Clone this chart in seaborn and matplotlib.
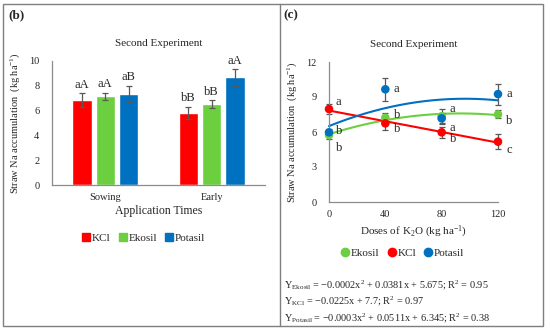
import numpy as np
import pandas as pd
import matplotlib
matplotlib.use("Agg")
import matplotlib.pyplot as plt
import seaborn as sns
from matplotlib.lines import Line2D
from matplotlib.patches import Rectangle

sns.set_style("white")
plt.rcParams['font.family'] = ['Liberation Serif', 'DejaVu Serif']
plt.rcParams['mathtext.fontset'] = 'custom'
plt.rcParams['mathtext.rm'] = 'Liberation Serif'
plt.rcParams['mathtext.it'] = 'Liberation Serif:italic'

# ---- data: panel (b) ----
times = ["Sowing", "Early"]
sources_b = ["KCl", "Ekosil", "Potasil"]
bar_kcl = [6.85, 5.83]
bar_ekosil = [7.15, 6.53]
bar_potasil = [7.34, 8.68]
err_kcl = [0.53, 0.48]
err_ekosil = [0.30, 0.31]
err_potasil = [0.67, 0.67]
lab_kcl = ["aA", "bB"]
lab_ekosil = ["aA", "bB"]
lab_potasil = ["aB", "aA"]

# ---- data: panel (c) ----
doses = [0, 40, 80, 120]
pt_ekosil = [5.74, 7.22, 7.35, 7.51]
pt_kcl = [7.97, 6.74, 5.97, 5.17]
pt_potasil = [5.97, 9.66, 7.17, 9.25]
perr_ekosil = [0.35, 0.40, 0.60, 0.35]
perr_kcl = [0.45, 0.60, 0.50, 0.65]
perr_potasil = [0.30, 1.00, 0.45, 0.90]
plab_ekosil = ["b", "b", "a", "b"]
plab_kcl = ["a", "b", "b", "c"]
plab_potasil = ["b", "a", "a", "a"]
equations = [
    r"Y$_{\mathrm{Ekosil}}$ = −0.0002x$^{2}$ + 0.0381x + 5.675; R$^{2}$ = 0.95",
    r"Y$_{\mathrm{KCl}}$ = −0.0225x + 7.7; R$^{2}$ = 0.97",
    r"Y$_{\mathrm{Potasil}}$ = −0.0003x$^{2}$ + 0.0511x + 6.345; R$^{2}$ = 0.38",
]

RED = "#FF0000"
GREEN = "#6CCF3F"
BLUE = "#0070C0"
GRAY = "#8C8C8C"
ERRC = "#595959"

W, H = 550, 332
fig = plt.figure(figsize=(5.5, 3.32), dpi=100)

# frame
fig.patches.append(Rectangle((3 / W, 1 - 326 / H), 540 / W, 322 / H, transform=fig.transFigure,
                             fill=False, edgecolor="#7F7F7F", lw=1.0))
fig.lines.append(Line2D([280 / W, 280 / W], [1 - 326 / H, 1 - 4 / H], transform=fig.transFigure,
                        color="#7F7F7F", lw=1.0))

# ---------- panel (b) ----------
axb = fig.add_axes([52 / W, 1 - 185 / H, 213 / W, 124 / H])
df = pd.DataFrame({
    "time": times * 3,
    "source": [s for s in sources_b for _ in times],
    "value": bar_kcl + bar_ekosil + bar_potasil,
})
errs = err_kcl + err_ekosil + err_potasil
labs = lab_kcl + lab_ekosil + lab_potasil
sns.barplot(data=df, x="time", y="value", hue="source", order=times, hue_order=sources_b,
            palette=[RED, GREEN, BLUE], width=0.66, gap=0.17, errorbar=None,
            saturation=1, ax=axb, legend=False)
for p, v, e, lb in zip(axb.patches, df["value"], errs, labs):
    xc = p.get_x() + p.get_width() / 2
    axb.errorbar(xc, v, yerr=e, color=ERRC, capsize=2.2, lw=0.9, capthick=0.9)
    axb.text(xc, v + e + 0.2, lb, ha="center", va="bottom", fontsize=9)
axb.set_ylim(0, 10)
axb.set_xlim(-0.5, 1.5)
axb.set_yticks([0, 2, 4, 6, 8, 10])
axb.tick_params(axis="both", length=0, labelsize=7.5, pad=9)
axb.tick_params(axis="x", pad=6)
axb.set_xlabel("Application Times", fontsize=8.5, labelpad=2)
axb.set_ylabel(r"Straw Na accumulation  (kg ha$^{-1}$)", fontsize=7.5, labelpad=5)
axb.set_title("Second Experiment", fontsize=8, pad=11)
for s in ["top", "right"]:
    axb.spines[s].set_visible(False)
for s in ["left", "bottom"]:
    axb.spines[s].set_color(GRAY)
    axb.spines[s].set_linewidth(0.9)
handles_b = [Line2D([], [], marker="s", ls="", color=c, markersize=6) for c in [RED, GREEN, BLUE]]
fig.legend(handles_b, sources_b, loc="center", bbox_to_anchor=(143 / W, 1 - 238 / H), ncol=3,
           frameon=False, fontsize=8, handletextpad=0.0, columnspacing=0.6, handlelength=1.0)
fig.text(8 / W, 1 - 15 / H, "(b)", fontsize=9.5, fontweight="bold", va="center", ha="left")

# ---------- panel (c) ----------
axc = fig.add_axes([329 / W, 1 - 202 / H, 169 / W, 140 / H])
series = [
    ("Ekosil", pt_ekosil, perr_ekosil, plab_ekosil, GREEN, 2),
    ("KCl", pt_kcl, perr_kcl, plab_kcl, RED, 1),
    ("Potasil", pt_potasil, perr_potasil, plab_potasil, BLUE, 2),
]
xs = np.array(doses, dtype=float)
xfit = np.linspace(0, 120, 200)
for name, ys, es, lbs, col, deg in series:
    coef = np.polyfit(xs, ys, deg)
    sns.lineplot(x=xfit, y=np.polyval(coef, xfit), color=col, lw=1.5, ax=axc, clip_on=False)
for name, ys, es, lbs, col, deg in series:
    axc.errorbar(xs, ys, yerr=es, fmt="none", ecolor=ERRC, capsize=2.2, lw=0.9, capthick=0.9,
                 clip_on=False)
    sns.scatterplot(x=xs, y=ys, color=col, s=38, edgecolor="none", ax=axc, clip_on=False, zorder=3)

# letter labels (offsets in points)
lab_offsets = {
    "Ekosil": [(5, -9), (6, 2), (6, 5), (6, -5)],
    "KCl": [(5, 5), (6, -4), (6, -5), (6, -6)],
    "Potasil": [(5, 1), (6, 0), (6, -7), (6, 0)],
}
for name, ys, es, lbs, col, deg in series:
    for x, y, lb, off in zip(xs, ys, lbs, lab_offsets[name]):
        axc.annotate(lb, (x, y), xytext=off, textcoords="offset points", fontsize=9,
                     ha="left", va="center")

axc.set_xlim(0, 120)
axc.set_ylim(0, 12)
axc.set_xticks(doses)
axc.set_yticks([0, 3, 6, 9, 12])
axc.tick_params(axis="both", length=0, labelsize=7.5, pad=9)
axc.tick_params(axis="x", pad=6)
axc.set_xlabel(r"Doses of K$_2$O (kg ha$^{-1}$)", fontsize=8, labelpad=3)
axc.set_ylabel(r"Straw Na accumulation  (kg ha$^{-1}$)", fontsize=7.5, labelpad=5)
axc.set_title("Second Experiment", fontsize=8, pad=11)
for s in ["top", "right"]:
    axc.spines[s].set_visible(False)
for s in ["left", "bottom"]:
    axc.spines[s].set_color(GRAY)
    axc.spines[s].set_linewidth(0.9)
handles_c = [Line2D([], [], marker="o", ls="", color=c, markersize=6) for c in [GREEN, RED, BLUE]]
fig.legend(handles_c, [s[0] for s in series], loc="center", bbox_to_anchor=(402 / W, 1 - 253 / H),
           ncol=3, frameon=False, fontsize=8, handletextpad=0.0, columnspacing=0.6, handlelength=1.0)
fig.text(283 / W, 1 - 15 / H, "(c)", fontsize=9.5, fontweight="bold", va="center", ha="left")
for i, eq in enumerate(equations):
    fig.text(284 / W, 1 - (285 + 16.5 * i) / H, eq, fontsize=7.4, va="center", ha="left")

fig.savefig("out.png", dpi=100)
